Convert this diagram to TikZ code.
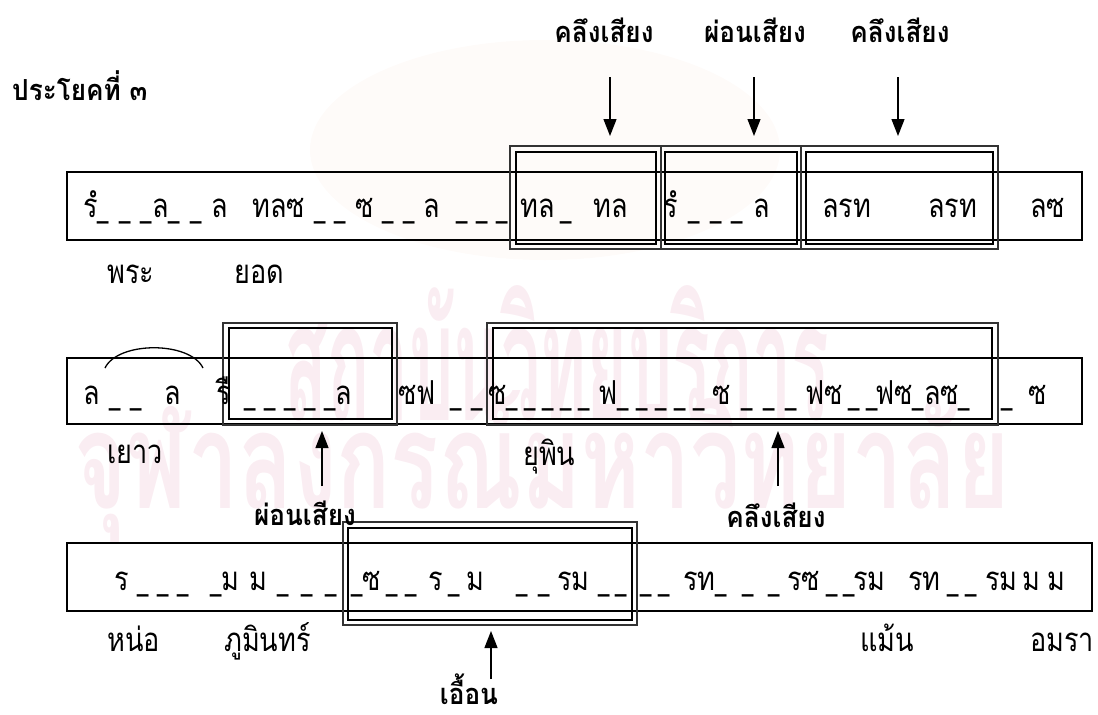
\documentclass[tikz,border=0pt]{standalone}
\usepackage{fontspec}
\newfontfamily\thai[Script=Thai,FakeStretch=0.82]{Loma}
\newfontfamily\thaiB[Script=Thai,FakeStretch=0.9]{Loma}
\usetikzlibrary{arrows.meta}
\definecolor{wmpink}{RGB}{250,237,242}
\definecolor{sealcream}{RGB}{254,251,249}
\tikzset{
 rowbox/.style={draw=black, line width=1.6pt},
 dbout/.style={draw=black!80, line width=1.1pt},
 dbin/.style={draw=black, line width=2.2pt},
 seg/.style={anchor=base west, inner sep=0pt, font=\thai\fontsize{33}{36}\selectfont},
 blab/.style={anchor=base, inner sep=0pt, font=\thaiB\bfseries\fontsize{29}{32}\selectfont},
 arr/.style={line width=1.3pt, -{Triangle[width=13pt,length=17pt]}},
 wm/.style={anchor=base, inner sep=0pt, text=wmpink, font=\thai\bfseries\fontsize{60}{70}\selectfont},
}
\newcommand\us{\scalebox{0.75}[1]{\_}}
\newcommand\fitseg[5]{\node[seg] (#1) at (#2,#3) {\makebox[#4pt][s]{#5}};}
\begin{document}
\begin{tikzpicture}[x=1pt,y=-1pt]
\useasboundingbox (0,0) rectangle (1098,715);
% faint seal and watermark
\fill[sealcream] (545,150) ellipse [x radius=235, y radius=110];
\node[wm] (wm1) at (557,420) {\resizebox{545pt}{135pt}{สถาบันวิทยบริการ}};
\node[wm] (wm2) at (542,508) {\resizebox{935pt}{118pt}{จุฬาลงกรณ์มหาวิทยาลัย}};
% title and top labels
\node[anchor=base west, inner sep=0pt, font=\thaiB\bfseries\fontsize{29}{32}\selectfont] (title) at (12,100) {ประโยคที่ ๓};
\node[blab] (t1) at (604,42) {คลึงเสียง};
\node[blab] (t2) at (755,42) {ผ่อนเสียง};
\node[blab] (t3) at (900,42) {คลึงเสียง};
% row boxes
\draw[rowbox] (67,172) rectangle (1082,240);
\draw[rowbox] (67,358) rectangle (1082,424);
\draw[rowbox] (67,543) rectangle (1092,611);
% double boxes row 1
\draw[dbout] (510,146) rectangle (661,249);
\draw[dbin]  (516,152) rectangle (656,244);
\draw[dbout] (661,146) rectangle (801,249);
\draw[dbin]  (665,152) rectangle (797,244);
\draw[dbout] (801,146) rectangle (998,249);
\draw[dbin]  (806,152) rectangle (993,244);
% double boxes row 2
\draw[dbout] (223,323) rectangle (397,425);
\draw[dbin]  (229,328) rectangle (392,419);
\draw[dbout] (487,323) rectangle (998,425);
\draw[dbin]  (493,328) rectangle (992,419);
% double box row 3
\draw[dbout] (343,522) rectangle (637,625);
\draw[dbin]  (348,528) rectangle (632,620);
% row 1 text
\fitseg{r1a}{83}{217}{145}{รํ\us{} \us{} \us{}ล\us{} \us{} ล}
\fitseg{r1b}{252}{217}{188}{ทลซ \us{} \us{} ซ \us{} \us{} ล}
\fitseg{r1c}{456}{217}{52}{\us{} \us{} \us{}}
\fitseg{r1d}{520}{217}{40}{ทล \us{}}
\node[seg] (r1e) at (593,217) {ทล};
\fitseg{r1f}{663}{217}{107}{รํ \us{} \us{} \us{} ล}
\node[seg] (r1g) at (822,217) {ลรท};
\node[seg] (r1h) at (928,217) {ลรท};
\node[seg] (r1i) at (1030,217) {ลซ};
\node[seg] (l1a) at (107,283) {พระ};
\node[seg] (l1b) at (234,283) {ยอด};
% row 2 text
\fitseg{r2a}{83}{404}{59}{ล \us{} \us{}}
\node[seg] (r2b) at (164,404) {ล};
\node[seg] (r2c) at (216,404) {รื};
\fitseg{r2d}{244}{404}{108}{\us{} \us{} \us{} \us{} \us{}ล}
\node[seg] (r2e) at (398,404) {ซฟ};
\fitseg{r2f}{450}{404}{33}{\us{} \us{}}
\fitseg{r2g}{488}{404}{102}{ซ\us{} \us{} \us{} \us{} \us{}}
\fitseg{r2h}{598}{404}{107}{ฟ\us{} \us{} \us{} \us{} \us{}}
\fitseg{r2i}{712}{404}{85}{ซ \us{} \us{} \us{}}
\fitseg{r2j}{805}{404}{70}{ฟซ \us{} \us{}}
\fitseg{r2k}{875}{404}{97}{ฟซ\us{}ลซ\us{}}
\node[seg] (r2l) at (1001,404) {\us{}};
\node[seg] (r2m) at (1028,404) {ซ};
\node[seg] (l2a) at (107,463) {เยาว};
\node[seg] (l2b) at (523,465) {ยุพิน};
% row 3 text
\fitseg{r3a}{114}{590}{75}{ร \us{} \us{} \us{}}
\fitseg{r3b}{210}{590}{57}{\us{}ม ม}
\fitseg{r3c}{277}{590}{60}{\us{} \us{} \us{}}
\fitseg{r3d}{351}{590}{26}{\us{}ซ}
\fitseg{r3e}{386}{590}{31}{\us{} \us{}}
\fitseg{r3f}{428}{590}{56}{ร \us{} ม}
\fitseg{r3g}{516}{590}{34}{\us{} \us{}}
\node[seg] (r3h) at (557,590) {รม};
\fitseg{r3i}{598}{590}{29}{\us{} \us{}}
\fitseg{r3j}{640}{590}{30}{\us{} \us{}}
\fitseg{r3k}{683}{590}{97}{รท\us{} \us{} \us{}}
\fitseg{r3l}{787}{590}{66}{รซ \us{} \us{}}
\node[seg] (r3m) at (853,590) {รม};
\fitseg{r3n}{908}{590}{69}{รท \us{} \us{}}
\node[seg] (r3o) at (985,590) {รม};
\node[seg] (r3p) at (1022,590) {ม};
\node[seg] (r3q) at (1047,590) {ม};
\node[seg] (l3a) at (107,651) {หน่อ};
\node[seg] (l3b) at (224,651) {ภูมินทร์};
\node[seg] (l3c) at (860,651) {แม้น};
\node[seg] (l3d) at (1030,651) {อมรา};
% lower bold labels
\node[blab] (b1) at (305,525) {ผ่อนเสียง};
\node[blab] (b2) at (776,527) {คลึงเสียง};
\node[blab] (b3) at (469,704) {เอื้อน};
% slur
\coordinate (s1) at (105,368);
\coordinate (s2) at (203,368);
\draw[line width=1.3pt] (s1) .. controls (118,341) and (190,341) .. (s2);
% arrows
\coordinate (a1s) at (610,77);  \coordinate (a1e) at (610,136);
\coordinate (a2s) at (754,77);  \coordinate (a2e) at (754,136);
\coordinate (a3s) at (898,77);  \coordinate (a3e) at (898,136);
\coordinate (a4s) at (322,486); \coordinate (a4e) at (322,431);
\coordinate (a5s) at (778,486); \coordinate (a5e) at (778,431);
\coordinate (a6s) at (491,679); \coordinate (a6e) at (491,631);
\draw[arr] (a1s) -- (a1e);
\draw[arr] (a2s) -- (a2e);
\draw[arr] (a3s) -- (a3e);
\draw[arr] (a4s) -- (a4e);
\draw[arr] (a5s) -- (a5e);
\draw[arr] (a6s) -- (a6e);
\end{tikzpicture}
\end{document}
